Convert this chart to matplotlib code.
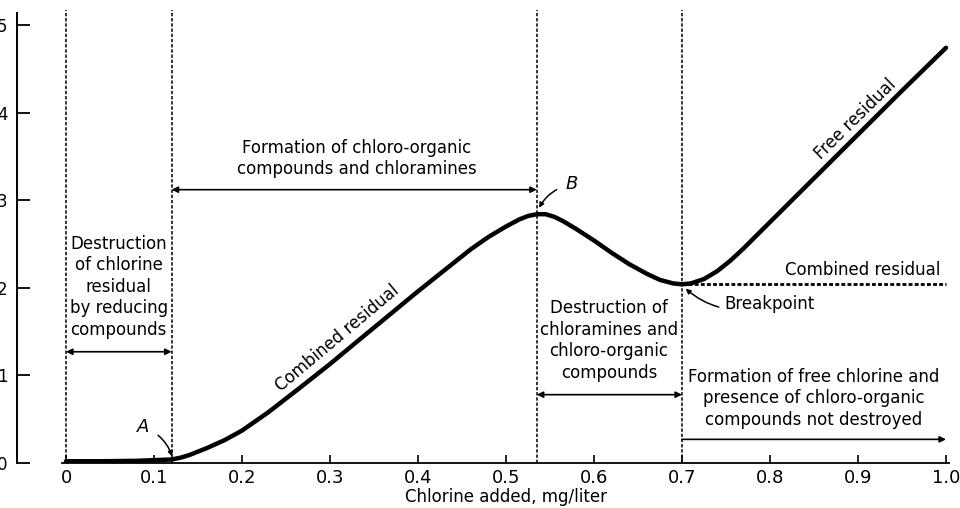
import numpy as np
import matplotlib.pyplot as plt
from matplotlib.transforms import blended_transform_factory

# breakpoint chlorination curve
dose = [0.0, 0.04, 0.08, 0.12, 0.13, 0.14, 0.15, 0.16, 0.18, 0.20, 0.23, 0.266,
        0.30, 0.33, 0.359, 0.40, 0.43, 0.46, 0.48, 0.50, 0.515, 0.525, 0.535,
        0.545, 0.555, 0.565, 0.58, 0.60, 0.62, 0.64, 0.66, 0.675, 0.69, 0.70,
        0.71, 0.725, 0.74, 0.755, 0.77, 0.789, 0.85, 0.90, 0.95, 1.0]
resid = [0.02, 0.02, 0.025, 0.04, 0.06, 0.09, 0.13, 0.17, 0.26, 0.37, 0.58, 0.86,
         1.13, 1.38, 1.62, 1.96, 2.20, 2.44, 2.58, 2.70, 2.78, 2.82, 2.84,
         2.84, 2.81, 2.76, 2.67, 2.54, 2.40, 2.27, 2.16, 2.09, 2.05, 2.04,
         2.05, 2.10, 2.19, 2.31, 2.45, 2.64, 3.25, 3.75, 4.25, 4.74]

zone_edges = [0.0, 0.12, 0.535, 0.70]
breakpoint_level = 2.04
xticks = [0, 0.1, 0.2, 0.3, 0.4, 0.5, 0.6, 0.7, 0.8, 0.9, 1.0]
xticklabels = ['0', '0.1', '0.2', '0.3', '0.4', '0.5', '0.6', '0.7', '0.8', '0.9', '1.0']
yticks = [0, 1, 2, 3, 4, 5]

plt.rcParams['font.family'] = 'DejaVu Sans'
FS = 12
LS = 1.25

fig = plt.figure(figsize=(9.6, 5.08), dpi=100)
ax = fig.add_axes([17 / 960, 45 / 508, 943 / 960, 463 / 508])
ax.set_xlim(-49 / 880, 894 / 880)
ax.set_ylim(0, 463 / 87.6)

for s in ['top', 'right']:
    ax.spines[s].set_visible(False)
ax.spines['left'].set_bounds(0, 5.14)
ax.spines['bottom'].set_bounds(-0.004, 1.003)
ax.spines['left'].set_linewidth(1.4)
ax.spines['bottom'].set_linewidth(1.3)

ax.set_xticks(xticks)
ax.set_xticklabels(xticklabels)
ax.set_yticks(yticks)
ax.tick_params(axis='y', direction='in', length=9, width=1.3, pad=7, labelsize=FS)
ax.tick_params(axis='x', direction='in', length=6, width=1.2, pad=4, labelsize=13)

# zone boundaries
ax.vlines(zone_edges, 0, 5.17, colors='k', linestyles=(0, (2.2, 1.2)), lw=1.1)
ax.hlines(breakpoint_level, 0.70, 1.0, colors='k', linestyles=(0, (1.4, 0.8)), lw=2.0)

# the curve
ax.plot(dose, resid, color='k', lw=3.2, solid_capstyle='round', solid_joinstyle='round')


def span_arrow(x0, x1, y, style='<|-|>'):
    ax.annotate('', xy=(x1, y), xytext=(x0, y),
                arrowprops=dict(arrowstyle=style, color='k', lw=1.2,
                                mutation_scale=9, shrinkA=0, shrinkB=0))


span_arrow(0.0, 0.12, 1.27)
span_arrow(0.12, 0.535, 3.12)
span_arrow(0.535, 0.70, 0.78)
span_arrow(0.70, 1.0, 0.27, style='-|>')

ax.text(0.06, 1.42, 'Destruction\nof chlorine\nresidual\nby reducing\ncompounds',
        ha='center', va='bottom', fontsize=FS, linespacing=LS)
ax.text(0.33, 3.25, 'Formation of chloro-organic\ncompounds and chloramines',
        ha='center', va='bottom', fontsize=FS, linespacing=LS)
ax.text(0.617, 0.93, 'Destruction of\nchloramines and\nchloro-organic\ncompounds',
        ha='center', va='bottom', fontsize=FS, linespacing=LS)
ax.text(0.85, 0.39, 'Formation of free chlorine and\npresence of chloro-organic\ncompounds not destroyed',
        ha='center', va='bottom', fontsize=FS, linespacing=LS)

ax.text(0.308, 1.42, 'Combined residual', ha='center', va='center',
        rotation=40, rotation_mode='anchor', fontsize=FS)
ax.text(0.897, 3.93, 'Free residual', ha='center', va='center',
        rotation=44.5, rotation_mode='anchor', fontsize=FS)
ax.text(0.905, 2.1, 'Combined residual', ha='center', va='bottom', fontsize=FS)

ax.annotate('Breakpoint', xy=(0.703, 2.0), xytext=(0.748, 1.82),
            ha='left', va='center', fontsize=FS,
            arrowprops=dict(arrowstyle='-|>', color='k', lw=1.1, mutation_scale=7,
                            shrinkA=2, shrinkB=1, connectionstyle='arc3,rad=-0.3'))
ax.annotate('A', xy=(0.121, 0.06), xytext=(0.088, 0.41),
            ha='center', va='center', fontsize=FS + 1, style='italic',
            arrowprops=dict(arrowstyle='-|>', color='k', lw=1.1, mutation_scale=7,
                            shrinkA=5, shrinkB=1, connectionstyle='arc3,rad=-0.25'))
ax.annotate('B', xy=(0.537, 2.9), xytext=(0.575, 3.18),
            ha='center', va='center', fontsize=FS + 1, style='italic',
            arrowprops=dict(arrowstyle='-|>', color='k', lw=1.1, mutation_scale=7,
                            shrinkA=5, shrinkB=1, connectionstyle='arc3,rad=0.25'))

trans = blended_transform_factory(ax.transData, fig.transFigure)
ax.text(0.5, 11 / 508, 'Chlorine added, mg/liter', transform=trans,
        ha='center', va='center', fontsize=FS)

fig.savefig('out.png', dpi=100)
